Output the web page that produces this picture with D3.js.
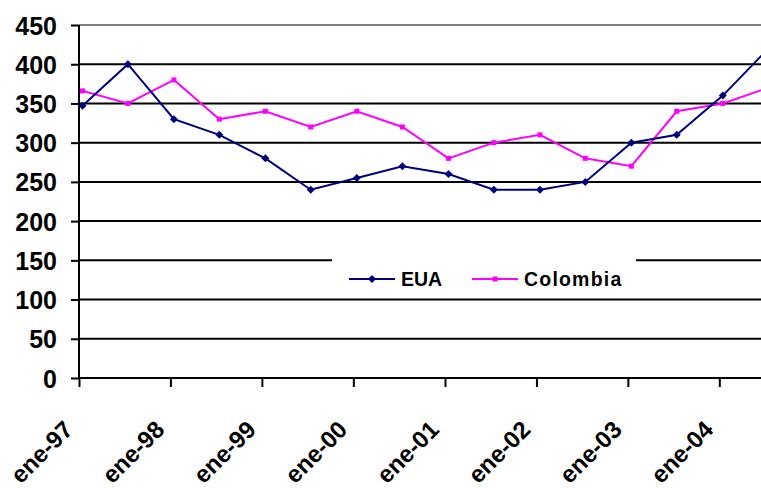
<!DOCTYPE html>
<html>
<head>
<meta charset="utf-8">
<script src="https://cdn.jsdelivr.net/npm/d3@7/dist/d3.min.js"></script>
<style>
  html, body { margin: 0; padding: 0; background: #fff; }
  svg { display: block; }
  text { font-family: "Liberation Sans", Arial, sans-serif; font-weight: bold; fill: #000; }
</style>
</head>
<body>
<svg id="chart" width="761" height="488"></svg>
<script>
// Semiannual observations (mid-January and mid-July), 1997–2004
const dates = [
  "1997-01-15", "1997-07-15", "1998-01-15", "1998-07-15",
  "1999-01-15", "1999-07-15", "2000-01-15", "2000-07-15",
  "2001-01-15", "2001-07-15", "2002-01-15", "2002-07-15",
  "2003-01-15", "2003-07-15", "2004-01-15", "2004-07-15"
];
const eua = [347, 400, 330, 310, 280, 240, 255, 270, 260, 240, 240, 250, 300, 310, 360, 420];
const colombia = [366, 350, 380, 330, 340, 320, 340, 320, 280, 300, 310, 280, 270, 340, 350, 370];
const yTicks = [0, 50, 100, 150, 200, 250, 300, 350, 400, 450];
const xTickLabels = ["ene-97", "ene-98", "ene-99", "ene-00", "ene-01", "ene-02", "ene-03", "ene-04"];
const seriesNames = ["EUA", "Colombia"];

const parse = d3.utcParse("%Y-%m-%d");
const svg = d3.select("#chart");

const plotLeft = 79, plotTop = 25, plotBottom = 378;
const x = d3.scaleUtc()
  .domain([parse("1997-01-01"), parse("2005-01-01")])
  .range([plotLeft, plotLeft + 8 * 91.5]);
const y = d3.scaleLinear().domain([0, 450]).range([plotBottom, plotTop]);
const plotRight = x.range()[1];

// horizontal gridlines
svg.append("g").selectAll("line")
  .data(yTicks.filter(v => v > 0 && v < 450))
  .join("line")
  .attr("x1", plotLeft).attr("x2", plotRight)
  .attr("y1", d => y(d)).attr("y2", d => y(d))
  .attr("stroke", "#000").attr("stroke-width", 2);

// plot-area top border
svg.append("line")
  .attr("x1", plotLeft).attr("x2", plotRight)
  .attr("y1", y(450)).attr("y2", y(450))
  .attr("stroke", "#808080").attr("stroke-width", 2);

// y axis
const yAxis = d3.axisLeft(y).tickValues(yTicks).tickSize(8).tickPadding(14);
const gy = svg.append("g").attr("transform", `translate(${plotLeft},0)`).call(yAxis);
gy.select(".domain").attr("stroke", "#000").attr("stroke-width", 2)
  .attr("d", `M0,${y(450)}V${plotBottom}`);
gy.selectAll(".tick line").attr("stroke", "#000").attr("stroke-width", 2);
gy.selectAll(".tick text")
  .style("font-size", "25px").attr("dy", "0.36em").attr("fill", "#000");

// x axis with yearly ticks
const yearTicks = d3.range(1997, 2005).map(yr => parse(`${yr}-01-01`));
const xAxis = d3.axisBottom(x).tickValues(yearTicks).tickSize(9)
  .tickFormat((d, i) => xTickLabels[i]);
const gx = svg.append("g").attr("transform", `translate(0,${plotBottom})`).call(xAxis);
gx.select(".domain").attr("stroke", "#000").attr("stroke-width", 2)
  .attr("d", `M${plotLeft},0H${plotRight}`);
gx.selectAll(".tick line").attr("stroke", "#000").attr("stroke-width", 2);
gx.selectAll(".tick text")
  .style("font-size", "24px")
  .attr("text-anchor", "end")
  .attr("dy", null)
  .attr("y", 0)
  .attr("fill", "#000")
  .attr("transform", "translate(-5,53) rotate(-45)");

// series lines
const pts = s => s.map((v, i) => [x(parse(dates[i])), y(v)]);
const line = d3.line();
const plot = svg.append("g");

function drawSeries(values, color, marker) {
  const p = pts(values);
  plot.append("path").attr("d", line(p))
    .attr("fill", "none").attr("stroke", color).attr("stroke-width", 2);
  plot.append("g").selectAll("path").data(p).join("path")
    .attr("d", marker)
    .attr("transform", d => `translate(${d[0]},${d[1]})`)
    .attr("fill", color);
}
const diamond = "M0,-4L4,0L0,4L-4,0Z";
const square = "M-2.5,-2.5H2.5V2.5H-2.5Z";
drawSeries(colombia, "#ff00ff", square);
drawSeries(eua, "#000080", diamond);

// legend
const lg = svg.append("g").attr("transform", "translate(332,259)");
lg.append("rect").attr("width", 304).attr("height", 37).attr("fill", "#fff");
const items = [
  { name: seriesNames[0], color: "#000080", marker: diamond, x0: 17, spacing: 0 },
  { name: seriesNames[1], color: "#ff00ff", marker: square, x0: 140, spacing: 1.2 }
];
items.forEach(it => {
  const g = lg.append("g").attr("transform", `translate(${it.x0},20)`);
  g.append("line").attr("x1", 0).attr("x2", 46)
    .attr("stroke", it.color).attr("stroke-width", 2);
  g.append("path").attr("d", it.marker).attr("transform", "translate(23,0)")
    .attr("fill", it.color);
  g.append("text").attr("x", 52).attr("y", 7).style("font-size", "19.5px")
    .style("letter-spacing", `${it.spacing}px`)
    .text(it.name);
});
</script>
</body>
</html>
